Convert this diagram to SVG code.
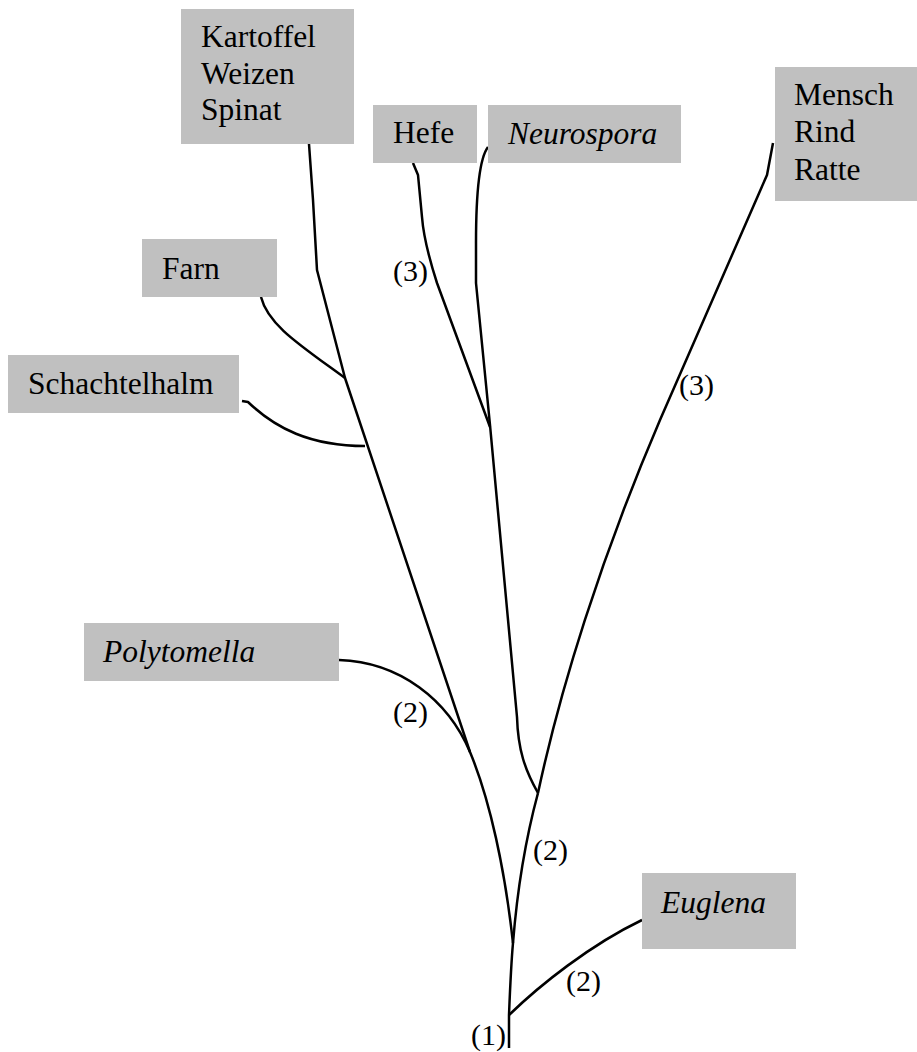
<svg xmlns="http://www.w3.org/2000/svg" width="917" height="1052" viewBox="0 0 917 1052">
<style>
.box{fill:#c0c0c0}
.t{font-family:'Liberation Serif','Times New Roman',Times,'DejaVu Serif',serif;font-size:31.5px;fill:#000}
.i{font-style:italic}
.lbl{font-family:'Liberation Serif','Times New Roman',Times,'DejaVu Serif',serif;font-size:30px;fill:#000}
.ln{fill:none;stroke:#000;stroke-width:2.5;stroke-linejoin:round;stroke-linecap:butt}
</style>
<rect width="917" height="1052" fill="#fff"/>
<g id="connectors">
<path class="ln" d="M509,1048 L509,1015 C510,990 511,965 513,943"/>
<path class="ln" d="M509,1015 C540,985 590,945 642,920"/>
<path class="ln" d="M513,943 C505,870 490,800 470,752 L345,378 L317,270 L313,200 L309,144"/>
<path class="ln" d="M339,660 C400,662 448,700 470,752"/>
<path class="ln" d="M261,297 C268,325 300,345 345,378"/>
<path class="ln" d="M242,401 L248,402 C275,428 310,446 365,446"/>
<path class="ln" d="M513,943 C518,880 528,830 538,793"/>
<path class="ln" d="M538,793 C525,770 518,750 517,717 L490,425 L476,283 L476,243 C476,200 478,160 488,147"/>
<path class="ln" d="M490,427 L437,283 C428,255 423,230 422,217 L418,175 L413,163"/>
<path class="ln" d="M538,793 C560,690 600,560 660,420 L767,175 L773,143"/>
</g>
<g id="n-kartoffel">
<rect class="box" x="181" y="9" width="173" height="135"/>
<text class="t" x="201" y="47">Kartoffel</text>
<text class="t" x="201" y="84">Weizen</text>
<text class="t" x="201" y="120">Spinat</text>
</g>
<g id="n-hefe">
<rect class="box" x="373" y="105" width="104" height="58"/>
<text class="t" x="393" y="143">Hefe</text>
</g>
<g id="n-neurospora">
<rect class="box" x="488" y="105" width="193" height="58"/>
<text class="t i" x="508" y="144">Neurospora</text>
</g>
<g id="n-mensch">
<rect class="box" x="775" y="67" width="142" height="134"/>
<text class="t" x="794" y="105">Mensch</text>
<text class="t" x="794" y="142">Rind</text>
<text class="t" x="794" y="180">Ratte</text>
</g>
<g id="n-farn">
<rect class="box" x="142" y="239" width="135" height="58"/>
<text class="t" x="162" y="279">Farn</text>
</g>
<g id="n-schachtelhalm">
<rect class="box" x="8" y="355" width="231" height="58"/>
<text class="t" x="28" y="394">Schachtelhalm</text>
</g>
<g id="n-polytomella">
<rect class="box" x="84" y="623" width="255" height="58"/>
<text class="t i" x="103" y="662">Polytomella</text>
</g>
<g id="n-euglena">
<rect class="box" x="642" y="873" width="154" height="76"/>
<text class="t i" x="661" y="913">Euglena</text>
</g>
<g id="labels">
<text class="lbl" x="393" y="281">(3)</text>
<text class="lbl" x="679" y="395">(3)</text>
<text class="lbl" x="393" y="722">(2)</text>
<text class="lbl" x="533" y="860">(2)</text>
<text class="lbl" x="566" y="991">(2)</text>
<text class="lbl" x="471" y="1045">(1)</text>
</g>
</svg>
